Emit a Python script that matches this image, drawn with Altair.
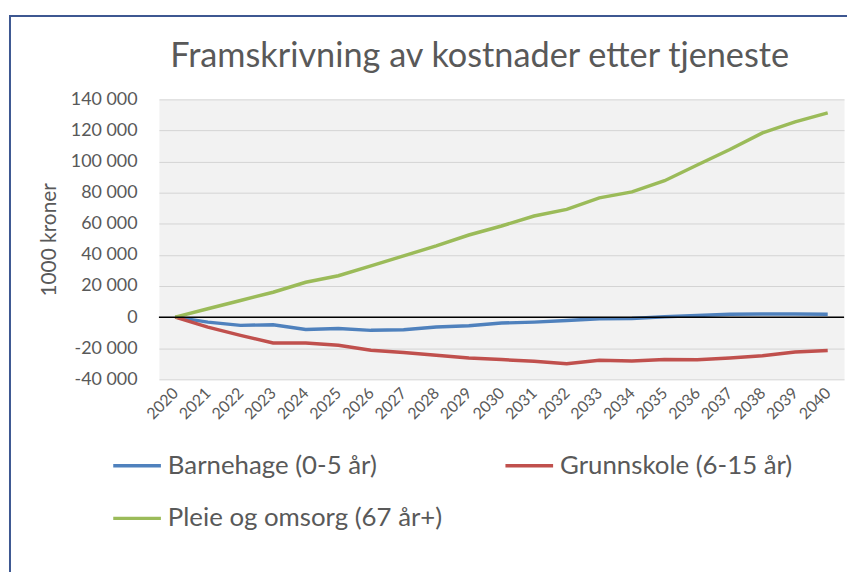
import altair as alt
import pandas as pd

years = [str(y) for y in range(2020, 2041)]
barnehage = [0, -3200, -5300, -4900, -7900, -7300, -8500, -8100, -6400, -5600, -3800,
             -3200, -2200, -1100, -900, 300, 1100, 1800, 2000, 2000, 1800]
grunnskole = [0, -6400, -11700, -16600, -16600, -18100, -21300, -22800, -24500, -26200, -27300,
              -28300, -30000, -27700, -28200, -27300, -27400, -26200, -24800, -22400, -21500]
pleie = [0, 5400, 10700, 16000, 22400, 26600, 33000, 39400, 45800, 52800, 58600,
         65000, 69300, 76700, 80500, 87700, 97800, 107800, 118400, 125500, 131300]

series_names = ["Barnehage (0-5 år)", "Grunnskole (6-15 år)", "Pleie og omsorg (67 år+)"]
series_colors = ["#4F81BD", "#C0504D", "#9BBB59"]
# legend lays entries out column by column: this order gives
# row 1: Barnehage, Grunnskole / row 2: Pleie
legend_order = [0, 2, 1]
y_ticks = [-40000, -20000, 0, 20000, 40000, 60000, 80000, 100000, 120000, 140000]

chart_title = "Framskrivning av kostnader etter tjeneste"
y_title = "1000 kroner"

rows = []
for name, vals in zip(series_names, [barnehage, grunnskole, pleie]):
    for yr, v in zip(years, vals):
        rows.append({"year": yr, "value": v, "serie": name})
df = pd.DataFrame(rows)

FONT = "Lato"
GREY = "#595959"

x_enc = alt.X(
    "year:O",
    sort=years,
    scale=alt.Scale(type="point", padding=0.5),
    axis=alt.Axis(
        title=None, labelAngle=315, labelAlign="right", labelBaseline="middle",
        labelPadding=11, ticks=False, domain=False, grid=False, labelOverlap=False,
        labelFont=FONT, labelFontSize=16, labelColor=GREY,
    ),
)
y_axis = alt.Axis(
    values=y_ticks, tickCount=len(y_ticks), title=y_title, grid=True,
    gridColor="#d4d4d4", gridWidth=1,
    ticks=False, domain=False, labelPadding=22, labelOverlap=False,
    labelFont=FONT, labelFontSize=18, labelColor=GREY,
    labelExpr="(datum.value < 0 ? '-' : '') + replace(format(abs(datum.value), ','), ',', ' ')",
    titleFont=FONT, titleFontSize=21, titleFontWeight="normal", titleColor=GREY,
    titleAngle=270, titleX=-110, titleY=141, titleAlign="center", titleBaseline="middle",
)
y_scale = alt.Scale(domain=[-40000, 140000], nice=False, zero=False)

border = alt.Chart(pd.DataFrame({"k": [0]})).mark_rect(
    fillOpacity=0, stroke="#3d5791", strokeWidth=2
).encode(
    x=alt.value(-150), x2=alt.value(760), y=alt.value(-84), y2=alt.value(560)
)

title_mark = alt.Chart(pd.DataFrame({"t": [chart_title]})).mark_text(
    font=FONT, fontSize=34.5, color=GREY, align="center", baseline="alphabetic"
).encode(x=alt.value(323), y=alt.value(-33), text="t:N")

lines = alt.Chart(df).mark_line(strokeWidth=3.5).encode(
    x=x_enc,
    y=alt.Y("value:Q", scale=y_scale, axis=y_axis),
    color=alt.Color(
        "serie:N",
        scale=alt.Scale(domain=[series_names[i] for i in legend_order],
                        range=[series_colors[i] for i in legend_order]),
        legend=alt.Legend(
            orient="none", legendX=-48, legendY=343, columns=2,
            columnPadding=56, rowPadding=14, padding=0,
            symbolType="stroke", symbolSize=2304, symbolStrokeWidth=3.5,
            labelFont=FONT, labelFontSize=26, labelColor=GREY, labelLimit=500,
            labelOffset=5, title=None,
        ),
    ),
)

zero_rule = alt.Chart(pd.DataFrame({"value": [0]})).mark_rule(
    color="black", strokeWidth=1.5
).encode(y=alt.Y("value:Q", scale=y_scale, axis=y_axis))

chart = alt.layer(border, title_mark, lines, zero_rule).properties(
    width=690,
    height=282,
    autosize=alt.AutoSizeParams(type="none"),
    padding={"left": 152, "top": 90, "right": 3, "bottom": 192},
).configure(font=FONT).configure_view(fill="#f2f2f2", strokeOpacity=0)

chart.save("out.html", embed_options={"renderer": "svg", "actions": False})
